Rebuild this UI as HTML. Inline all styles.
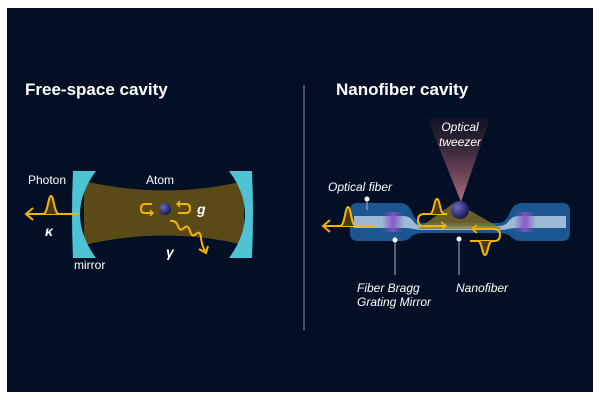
<!DOCTYPE html>
<html><head><meta charset="utf-8"><style>
html,body{margin:0;padding:0;background:#fff;}
svg{display:block;}
text{font-family:"Liberation Sans",sans-serif;fill:#fff;}
</style></head><body>
<svg width="600" height="400" viewBox="0 0 600 400" xmlns="http://www.w3.org/2000/svg">
<defs>
<linearGradient id="tw" x1="0" y1="0" x2="0" y2="1">
<stop offset="0" stop-color="#3a1e30" stop-opacity="0.3"/>
<stop offset="1" stop-color="#c87a8a" stop-opacity="0.9"/>
</linearGradient>
<radialGradient id="at" cx="0.35" cy="0.35" r="0.7">
<stop offset="0" stop-color="#6a6ac8"/><stop offset="1" stop-color="#14144a"/>
</radialGradient>
<linearGradient id="gr" x1="0" y1="0" x2="1" y2="0">
<stop offset="0" stop-color="#7a4ac0" stop-opacity="0"/>
<stop offset="0.5" stop-color="#8a50c8"/>
<stop offset="1" stop-color="#7a4ac0" stop-opacity="0"/>
</linearGradient>
</defs>
<rect x="7" y="8" width="586" height="384" fill="#020f24"/>
<text x="25" y="95" font-size="17" font-weight="bold">Free-space cavity</text>
<text x="336" y="95" font-size="17" font-weight="bold">Nanofiber cavity</text>
<line x1="304" y1="85" x2="304" y2="330" stroke="#8a94a4" stroke-width="1"/>

<!-- left cavity -->
<path d="M84,181 Q165,200 244,181 L244,245 Q165,226 84,245 Z" fill="#5a4a18"/>
<path d="M73,171 L96,171 Q64,214 96,258 L73,258 Q71,214 73,171 Z" fill="#4ec3d3"/>
<path d="M252,171 L229,171 Q261,214 229,258 L252,258 Q254,214 252,171 Z" fill="#4ec3d3"/>
<text x="28" y="184" font-size="12">Photon</text>
<text x="146" y="184" font-size="12">Atom</text>
<text x="74" y="269" font-size="12">mirror</text>
<text x="197" y="214" font-size="14" font-weight="bold" font-style="italic" font-family="Liberation Serif,serif">g</text>
<text x="45" y="236" font-size="14" font-weight="bold" font-style="italic" font-family="Liberation Serif,serif">κ</text>
<text x="166" y="257" font-size="14" font-weight="bold" font-style="italic" font-family="Liberation Serif,serif">γ</text>
<g stroke="#f4b400" stroke-width="2" fill="none">
<line x1="78" y1="214" x2="26" y2="214"/>
<polyline points="33,208 26,214 33,220"/>
<path d="M43,214 C48,214 48,196 51,196 C54,196 54,214 59,214" fill="#4a3a10"/>
<path d="M152,204 L145,204 Q141,204 141,209 Q141,213 145,213 L152,213"/>
<polyline points="150,210 153,213 150,216" stroke-width="1.5"/>
<path d="M178,204 L186,204 Q190,204 190,209 Q190,213 186,213 L178,213"/>
<polyline points="180,201 177,204 180,207" stroke-width="1.5"/>
<path d="M170,221 Q176,220 178,226 Q180,232 184,228 Q188,224 190,231 Q192,238 196,234 Q200,230 201,238 Q202,246 205,251"/>
<polyline points="199,249 206,253 208,246"/>
</g>
<circle cx="165" cy="209" r="6" fill="url(#at)"/>

<!-- right: tweezer -->
<path d="M427,118 L490,118 L461,202 Z" fill="url(#tw)"/>
<text x="460" y="131" font-size="12" font-style="italic" text-anchor="middle">Optical</text>
<text x="460" y="146" font-size="12" font-style="italic" text-anchor="middle">tweezer</text>
<path d="M358,203 L400,203 Q408,203 412,212 Q416,223 424,223 L498,223 Q506,223 510,212 Q514,203 522,203 L562,203 Q570,203 570,211 L570,233 Q570,241 562,241 L522,241 Q514,241 510,236 Q506,233 498,233 L424,233 Q416,233 412,236 Q408,241 400,241 L358,241 Q350,241 350,233 L350,211 Q350,203 358,203 Z" fill="#1b5690"/>
<path d="M354,216 L404,216 Q410,216 414,222 Q417,226 424,226 L498,226 Q505,226 508,222 Q512,216 518,216 L566,216 L566,228 L518,228 Q512,228 508,229 Q505,230 498,230 L424,230 Q417,230 414,229 Q410,228 404,228 L354,228 Z" fill="#9cbad6"/>
<rect x="382" y="212" width="22" height="20" fill="url(#gr)" opacity="0.9"/>
<rect x="514" y="212" width="22" height="20" fill="url(#gr)" opacity="0.9"/>
<path d="M418,229 L455,202 L502,229 Z" fill="#8a7a2a" opacity="0.75"/>
<circle cx="460" cy="210" r="9" fill="url(#at)"/>
<g stroke="#f4b400" stroke-width="2" fill="none">
<line x1="375" y1="226" x2="323" y2="226"/>
<polyline points="330,220 323,226 330,232"/>
<path d="M340,226 C345,226 345,207 348,207 C351,207 351,226 356,226" fill="#4a3a10"/>
<path d="M447,214 L424,214 Q418,214 418,220 Q418,226 424,226 L446,226"/>
<polyline points="441,222 446,226 441,230" stroke-width="1.5"/>
<path d="M430,214 C434,214 434,199 437,199 C440,199 440,214 444,214" fill="#4a3a10"/>
<path d="M472,229 L494,229 Q500,229 500,235 Q500,241 494,241 L470,241"/>
<polyline points="477,225 472,229 477,233" stroke-width="1.5"/>
<path d="M478,241 C482,241 482,255 485,255 C488,255 488,241 492,241" fill="#4a3a10"/>
</g>
<g stroke="#aab4c4" stroke-width="1" fill="#fff">
<line x1="367" y1="199" x2="367" y2="210"/>
<line x1="395" y1="240" x2="395" y2="275"/>
<line x1="459" y1="239" x2="459" y2="275"/>
<circle cx="367" cy="199" r="2.5" stroke="none"/>
<circle cx="395" cy="240" r="2.5" stroke="none"/>
<circle cx="459" cy="239" r="2.5" stroke="none"/>
</g>
<text x="328" y="191" font-size="12" font-style="italic">Optical fiber</text>
<text x="357" y="292" font-size="12" font-style="italic">Fiber Bragg</text>
<text x="357" y="306" font-size="12" font-style="italic">Grating Mirror</text>
<text x="456" y="292" font-size="12" font-style="italic">Nanofiber</text>
</svg>
</body></html>
